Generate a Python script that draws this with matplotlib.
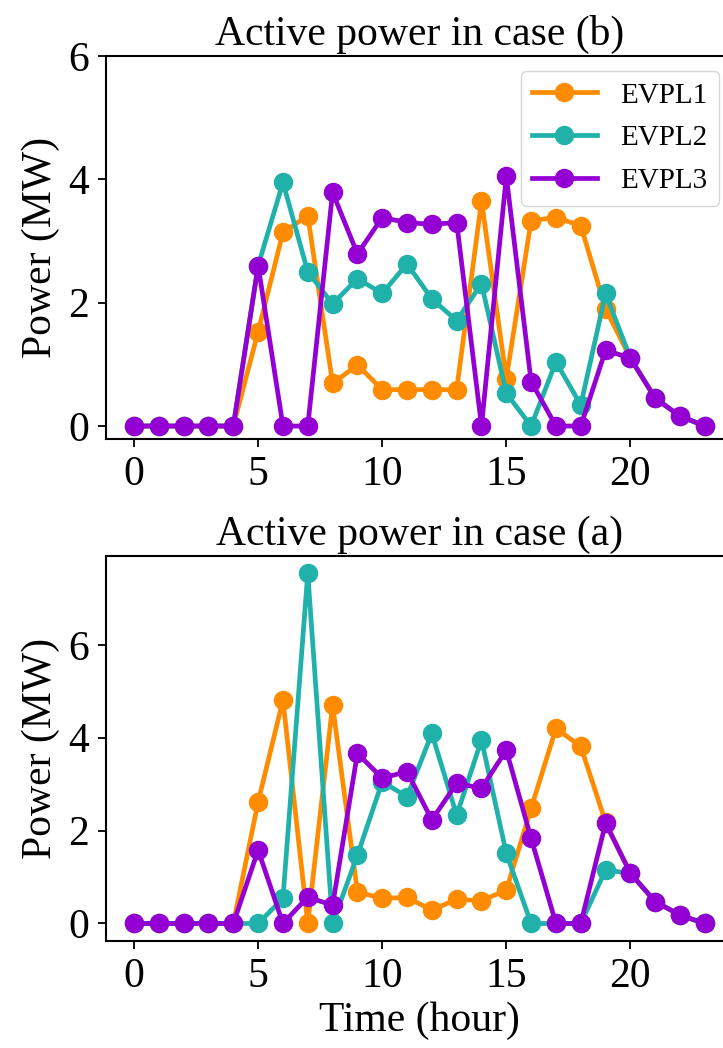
import matplotlib
matplotlib.use("Agg")
import matplotlib.pyplot as plt

# ---------------------------------------------------------------------------
# Hourly active power of the three EV parking lots (MW)
# ---------------------------------------------------------------------------

hours = list(range(24))

# case (b)
evpl1_b = [0, 0, 0, 0, 0, 1.53, 3.14, 3.41, 0.69, 0.99, 0.59, 0.59,
           0.59, 0.59, 3.65, 0.77, 3.33, 3.38, 3.25, 1.90, 1.10, 0.45, 0.16, 0]
evpl2_b = [0, 0, 0, 0, 0, 2.60, 3.95, 2.50, 1.98, 2.39, 2.15, 2.63,
           2.06, 1.71, 2.31, 0.53, 0, 1.04, 0.34, 2.15, 1.10, 0.45, 0.16, 0]
evpl3_b = [0, 0, 0, 0, 0, 2.60, 0, 0, 3.79, 2.79, 3.38, 3.30,
           3.27, 3.30, 0, 4.05, 0.72, 0, 0, 1.23, 1.10, 0.45, 0.16, 0]

# case (a)
evpl1_a = [0, 0, 0, 0, 0, 2.62, 4.81, 0, 4.70, 0.68, 0.54, 0.56,
           0.29, 0.52, 0.49, 0.72, 2.48, 4.20, 3.81, 2.18, 1.08, 0.47, 0.18, 0]
evpl2_a = [0, 0, 0, 0, 0, 0, 0.54, 7.54, 0, 1.47, 3.05, 2.73,
           4.09, 2.33, 3.95, 1.51, 0, 0, 0, 1.15, 1.08, 0.47, 0.18, 0]
evpl3_a = [0, 0, 0, 0, 0, 1.58, 0, 0.57, 0.39, 3.66, 3.13, 3.27,
           2.23, 3.02, 2.91, 3.73, 1.83, 0, 0, 2.16, 1.08, 0.47, 0.18, 0]

labels = ["EVPL1", "EVPL2", "EVPL3"]
colors = ["#FF8C00", "#20B2AA", "#9400D3"]

plt.rcParams["font.family"] = ["Liberation Serif", "DejaVu Serif"]
plt.rcParams["mathtext.fontset"] = "stix"

FS = 30
W, H = 723, 1048

fig = plt.figure(figsize=(W / 100, H / 100), dpi=100)


def _axes_at(left, top, right, bottom):
    """Axes placed by pixel edges (right edge may run past the canvas)."""
    return fig.add_axes([left / W, 1 - bottom / H, (right - left) / W, (bottom - top) / H])


ax_b = _axes_at(105.5, 56, 733.4, 438.5)
ax_a = _axes_at(105.5, 555.7, 733.4, 941)


def _draw(ax, series, title):
    for vals, lab, col in zip(series, labels, colors):
        ax.plot(hours, vals, color=col, marker="o", markersize=13,
                linewidth=3.4, label=lab)
    ax.set_title(title, fontsize=FS, pad=8)
    ax.set_ylabel("Power (MW)", fontsize=FS, labelpad=6)
    ax.set_xticks([0, 5, 10, 15, 20])
    ax.tick_params(labelsize=FS, length=6, width=1.3, pad=6)
    for sp in ax.spines.values():
        sp.set_linewidth(1.5)


_draw(ax_b, [evpl1_b, evpl2_b, evpl3_b], "Active power in case (b)")
ax_b.set_ylim(top=6)
ax_b.set_yticks([0, 2, 4, 6])
ax_b.legend(loc="upper right", fontsize=21, handlelength=2.2,
            borderaxespad=0.5, labelspacing=0.56)

_draw(ax_a, [evpl1_a, evpl2_a, evpl3_a], "Active power in case (a)")
ax_a.set_yticks([0, 2, 4, 6])
ax_a.set_xlabel("Time (hour)", fontsize=FS, labelpad=4)

fig.savefig("out.png", dpi=100)
